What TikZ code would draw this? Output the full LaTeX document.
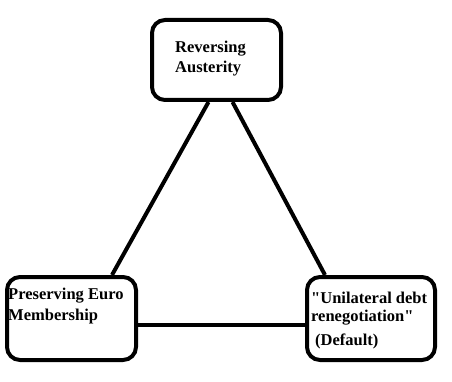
\documentclass[tikz,border=0pt]{standalone}
\usepackage{fontspec}
\setmainfont{Liberation Serif}[Ligatures=TeXOff]
\usetikzlibrary{calc}
\begin{document}
\begin{tikzpicture}[x=1pt,y=-1pt,
  box/.style={draw,line width=4pt,rounded corners=13pt,inner sep=0pt},
  lbl/.style={anchor=base west,inner sep=0pt,font=\fontsize{16.5}{20}\selectfont\bfseries},
  link/.style={line width=4pt}]
\useasboundingbox (0,0) rectangle (452,382);
\node[box,minimum width=129pt,minimum height=80pt] (top) at (216.5,60) {};
\node[box,minimum width=129pt,minimum height=83pt] (left) at (71.5,318.5) {};
\node[box,minimum width=128pt,minimum height=83pt] (right) at (371,318.5) {};
\node[lbl] (t1) at (175,53) {Reversing};
\node[lbl] (t2) at (175,73) {Austerity};
\node[lbl] (l1) at (8,299) {Preserving Euro};
\node[lbl] (l2) at (8,320) {Membership};
\node[lbl] (r1) at (311,303) {"Unilateral debt};
\node[lbl] (r2) at (311,321) {renegotiation"};
\node[lbl] (r3) at (315,345) {(Default)};
\draw[link] ($(top.south)+(-8,0)$) -- ($(left.north east)+(-26,0)$);
\draw[link] ($(top.south)+(16,0)$) -- ($(right.north west)+(20,0)$);
\draw[link] ($(left.east)+(0,6.5)$) -- ($(right.west)+(0,6.5)$);
\end{tikzpicture}
\end{document}
